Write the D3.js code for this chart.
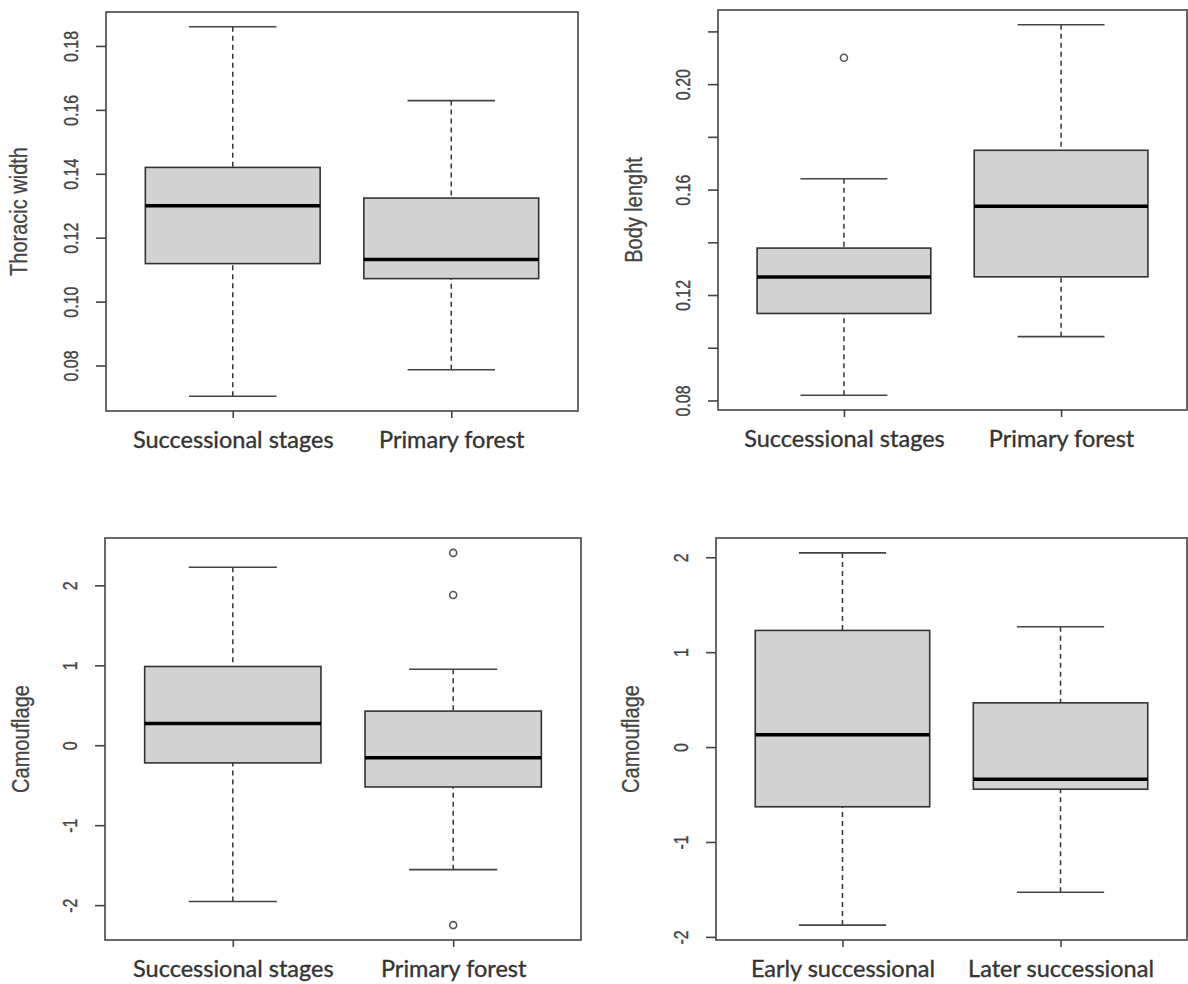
<!DOCTYPE html>
<html>
<head>
    <script src="https://d3js.org/d3.v7.min.js"></script>
    <style>
        body { margin: 0; background: #fff; }
        .tick-lab { font-family: "Liberation Sans", Arial, sans-serif; font-size: 16px; fill: #444; stroke: #444; stroke-width: 0.3px; }
        .y-title { font-family: "Liberation Sans", Arial, sans-serif; font-size: 20px; fill: #444; stroke: #444; stroke-width: 0.25px; }
        .x-lab { font-family: Lato, "Open Sans", sans-serif; font-size: 23.5px; fill: #333; stroke: #333; stroke-width: 0.35px; }
    </style>
</head>
<body>
<div id="chart"></div>
<script>
    // group names
    var habitatCats = ["Successional stages", "Primary forest"];
    var stageCats = ["Early successional", "Later successional"];

    // box stats per group: [lower whisker, Q1, median, Q3, upper whisker]
    var thoracicStats = [[0.0704, 0.1119, 0.1300, 0.1420, 0.1860], [0.0787, 0.1072, 0.1132, 0.1324, 0.1629]];
    var thoracicOut = [[], []];
    var bodyStats = [[0.0820, 0.1130, 0.1268, 0.1378, 0.1641], [0.1042, 0.1269, 0.1537, 0.1749, 0.2225]];
    var bodyOut = [[0.210], []];
    var camoStats = [[-1.955, -0.221, 0.272, 0.985, 2.226], [-1.556, -0.522, -0.158, 0.427, 0.950]];
    var camoOut = [[], [2.406, 1.880, -2.250]];
    var camoStageStats = [[-1.876, -0.629, 0.130, 1.229, 2.046], [-1.529, -0.444, -0.339, 0.466, 1.268]];
    var camoStageOut = [[], []];

    // y ticks and their labels (R drops the ones that would overlap)
    var thoracicTicks = [0.08, 0.10, 0.12, 0.14, 0.16, 0.18];
    var thoracicTickLabels = ["0.08", "0.10", "0.12", "0.14", "0.16", "0.18"];
    var bodyTicks = [0.08, 0.10, 0.12, 0.14, 0.16, 0.18, 0.20, 0.22];
    var bodyTickLabels = ["0.08", "", "0.12", "", "0.16", "", "0.20", ""];
    var camoTicks = [-2, -1, 0, 1, 2];
    var camoTickLabels = ["-2", "-1", "0", "1", "2"];

    var width = 1188, height = 984;
    var stretch = 1.25; // rotated labels in the source look wider across the axis

    var svg = d3.select("#chart").append("svg")
        .attr("width", width)
        .attr("height", height);

    svg.append("rect").attr("width", width).attr("height", height).attr("fill", "#fff");

    var panels = [
        { stats: thoracicStats, out: thoracicOut, cats: habitatCats, ticks: thoracicTicks, labels: thoracicTickLabels,
          title: "Thoracic width", frame: { left: 106, right: 578, top: 12, bottom: 411 }, titleOff: 87 },
        { stats: bodyStats, out: bodyOut, cats: habitatCats, ticks: bodyTicks, labels: bodyTickLabels,
          title: "Body lenght", frame: { left: 718, right: 1187, top: 10, bottom: 410 }, titleOff: 84 },
        { stats: camoStats, out: camoOut, cats: habitatCats, ticks: camoTicks, labels: camoTickLabels,
          title: "Camouflage", frame: { left: 105, right: 581, top: 538, bottom: 940 }, titleOff: 84 },
        { stats: camoStageStats, out: camoStageOut, cats: stageCats, ticks: camoTicks, labels: camoTickLabels,
          title: "Camouflage", frame: { left: 716, right: 1187, top: 538, bottom: 940 }, titleOff: 85 }
    ];

    panels.forEach(drawPanel);

    function drawPanel(p) {
        var f = p.frame;

        // R style limits: range of all values plus 4% each side
        var all = d3.merge(p.stats.concat(p.out));
        var ext = d3.extent(all);
        var pad = (ext[1] - ext[0]) * 0.04;

        var y = d3.scaleLinear()
            .domain([ext[0] - pad, ext[1] + pad])
            .range([f.bottom, f.top]);

        var x = d3.scaleLinear()
            .domain([0.42, 2.58])
            .range([f.left, f.right]);

        var unit = x(1) - x(0);
        var boxHalf = 0.4 * unit;
        var capHalf = 0.2 * unit;

        var g = svg.append("g");

        var groups = g.selectAll("g.grp")
            .data(p.stats)
            .enter().append("g")
            .attr("class", "grp");

        // dashed whiskers
        groups.append("line")
            .attr("x1", function (d, i) { return x(i + 1); })
            .attr("x2", function (d, i) { return x(i + 1); })
            .attr("y1", function (d) { return y(d[0]); })
            .attr("y2", function (d) { return y(d[1]); })
            .attr("stroke", "#333").attr("stroke-width", 1.5).attr("stroke-dasharray", "5,4");
        groups.append("line")
            .attr("x1", function (d, i) { return x(i + 1); })
            .attr("x2", function (d, i) { return x(i + 1); })
            .attr("y1", function (d) { return y(d[4]); })
            .attr("y2", function (d) { return y(d[3]); })
            .attr("stroke", "#333").attr("stroke-width", 1.5).attr("stroke-dasharray", "5,4");

        // staples
        [0, 4].forEach(function (k) {
            groups.append("line")
                .attr("x1", function (d, i) { return x(i + 1) - capHalf; })
                .attr("x2", function (d, i) { return x(i + 1) + capHalf; })
                .attr("y1", function (d) { return y(d[k]); })
                .attr("y2", function (d) { return y(d[k]); })
                .attr("stroke", "#444").attr("stroke-width", 1.6);
        });

        // boxes
        groups.append("rect")
            .attr("x", function (d, i) { return x(i + 1) - boxHalf; })
            .attr("width", 2 * boxHalf)
            .attr("y", function (d) { return y(d[3]); })
            .attr("height", function (d) { return y(d[1]) - y(d[3]); })
            .attr("fill", "#d3d3d3")
            .attr("stroke", "#333").attr("stroke-width", 1.6);

        // medians
        groups.append("line")
            .attr("x1", function (d, i) { return x(i + 1) - boxHalf; })
            .attr("x2", function (d, i) { return x(i + 1) + boxHalf; })
            .attr("y1", function (d) { return y(d[2]); })
            .attr("y2", function (d) { return y(d[2]); })
            .attr("stroke", "#000").attr("stroke-width", 3.5);

        // outliers
        p.out.forEach(function (vals, i) {
            g.selectAll(null)
                .data(vals)
                .enter().append("circle")
                .attr("cx", x(i + 1))
                .attr("cy", function (v) { return y(v); })
                .attr("r", 3.5)
                .attr("fill", "none")
                .attr("stroke", "#555").attr("stroke-width", 1.6);
        });

        // frame
        g.append("rect")
            .attr("x", f.left).attr("y", f.top)
            .attr("width", f.right - f.left).attr("height", f.bottom - f.top)
            .attr("fill", "none").attr("stroke", "#444").attr("stroke-width", 1.6);

        // y axis
        var yAxis = g.append("g")
            .attr("transform", "translate(" + f.left + ",0)")
            .call(d3.axisLeft(y)
                .tickValues(p.ticks)
                .tickSize(10)
                .tickFormat(function (d, i) { return p.labels[i]; }));
        yAxis.select(".domain").remove();
        yAxis.attr("font-size", null).attr("font-family", null);
        yAxis.selectAll(".tick line").attr("stroke", "#444").attr("stroke-width", 1.6);
        yAxis.selectAll(".tick text")
            .attr("class", "tick-lab")
            .attr("fill", null)
            .attr("transform", "rotate(-90) scale(1," + stretch + ")")
            .attr("x", 0).attr("y", -35 / stretch).attr("dy", "0.35em")
            .attr("text-anchor", "middle");

        // x axis
        var xAxis = g.append("g")
            .attr("transform", "translate(0," + f.bottom + ")")
            .call(d3.axisBottom(x)
                .tickValues([1, 2])
                .tickSize(7)
                .tickFormat(function (d) { return p.cats[d - 1]; }));
        xAxis.select(".domain").remove();
        xAxis.attr("font-size", null).attr("font-family", null);
        xAxis.selectAll(".tick line").attr("stroke", "#444").attr("stroke-width", 1.6);
        xAxis.selectAll(".tick text")
            .attr("class", "x-lab")
            .attr("fill", null)
            .attr("y", 37).attr("dy", 0);

        // y title
        g.append("text")
            .attr("class", "y-title")
            .attr("transform", "translate(" + (f.left - p.titleOff) + "," + ((f.top + f.bottom) / 2) + ") rotate(-90) scale(1,1.15)")
            .attr("text-anchor", "middle")
            .attr("dy", "0.35em")
            .text(p.title);
    }
</script>
</body>
</html>
